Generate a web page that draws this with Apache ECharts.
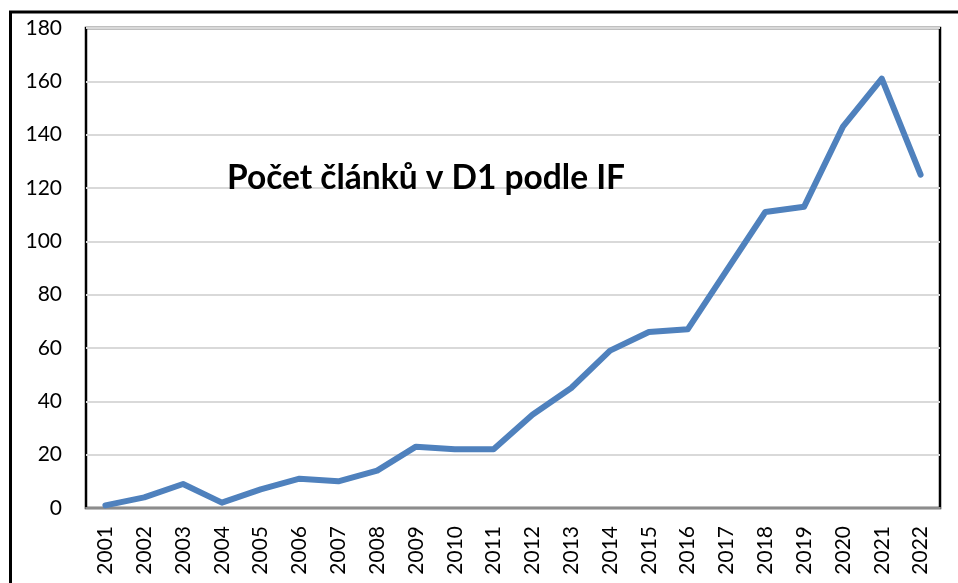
<!DOCTYPE html>
<html>
<head>
<meta charset="utf-8">
<script src="https://cdn.jsdelivr.net/npm/echarts@6/dist/echarts.min.js"></script>
<style>
  html, body { margin: 0; padding: 0; background: #fff; }
  #chart { width: 958px; height: 583px; }
</style>
</head>
<body>
<div id="chart"></div>
<script>
// roky a počty článků
var years = ['2001', '2002', '2003', '2004', '2005', '2006', '2007', '2008', '2009', '2010', '2011',
  '2012', '2013', '2014', '2015', '2016', '2017', '2018', '2019', '2020', '2021', '2022'];
var counts = [1, 4, 9, 2, 7, 11, 10, 14, 23, 22, 22, 35, 45, 59, 66, 67, 89, 111, 113, 143, 161, 125];
var chartTitle = 'Počet článků v D1 podle IF';

var myChart = echarts.init(document.getElementById('chart'));
myChart.setOption({
  animation: false,
  title: {
    text: chartTitle,
    left: 222,
    top: 156,
    textStyle: {
      fontFamily: 'Lato',
      fontWeight: 'bold',
      fontSize: 33.5,
      color: '#000'
    }
  },
  graphic: [{
    type: 'rect',
    shape: { x: 10.5, y: 12, width: 1000, height: 700 },
    style: { fill: 'none', stroke: '#000', lineWidth: 3 },
    z: 100
  }],
  grid: {
    left: 86,
    top: 28,
    right: 18,
    bottom: 75,
    show: true,
    borderColor: '#000',
    borderWidth: 2.5,
    backgroundColor: '#fff'
  },
  xAxis: {
    type: 'category',
    data: years,
    axisTick: { show: false },
    axisLine: {
      lineStyle: { color: '#8c8c8c', width: 2 }
    },
    axisLabel: {
      interval: 0,
      rotate: 90,
      margin: 18,
      fontFamily: 'Lato',
      fontSize: 21,
      color: '#000'
    }
  },
  yAxis: {
    type: 'value',
    min: 0,
    max: 180,
    interval: 20,
    axisLine: { show: false },
    axisTick: { show: false },
    splitLine: {
      lineStyle: { color: '#d9d9d9', width: 2 }
    },
    axisLabel: {
      margin: 24,
      fontFamily: 'Lato',
      fontSize: 21,
      color: '#000'
    }
  },
  series: [{
    type: 'line',
    data: counts,
    showSymbol: false,
    lineStyle: { color: '#4f81bd', width: 6, cap: 'round', join: 'round' },
    itemStyle: { color: '#4f81bd' }
  }]
});
</script>
</body>
</html>
